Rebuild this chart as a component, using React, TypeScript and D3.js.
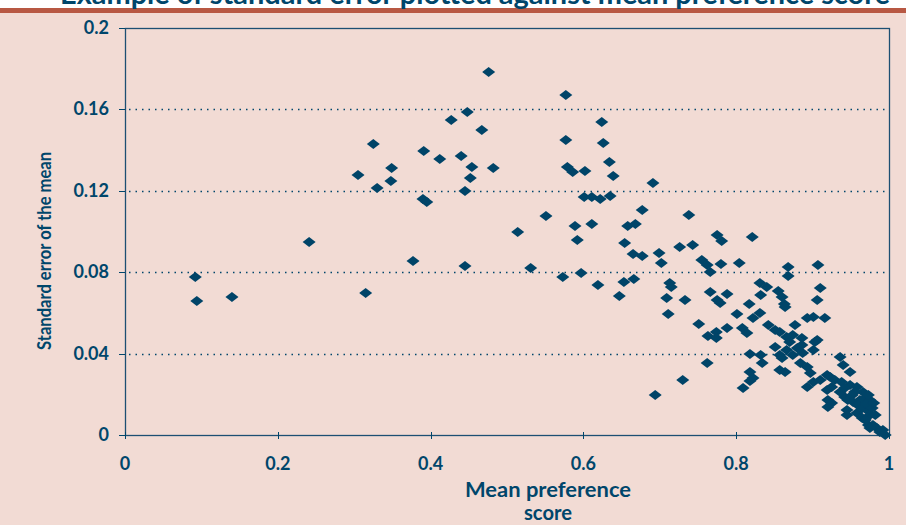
import React, { useEffect, useRef } from 'react';
import * as d3 from 'd3';

// Mean preference score (x) and standard error of the mean (y)
const meanScore = [
  0.092, 0.094, 0.140, 0.241, 0.305, 0.315, 0.325, 0.330, 0.348, 0.349,
  0.377, 0.391, 0.390, 0.395, 0.412, 0.427, 0.440, 0.445, 0.445, 0.448,
  0.452, 0.454, 0.467, 0.476, 0.482, 0.514, 0.531, 0.551,
  0.577, 0.624, 0.577, 0.626, 0.634, 0.579, 0.586, 0.602, 0.639, 0.691,
  0.601, 0.611, 0.622, 0.635, 0.677, 0.738, 0.589, 0.611, 0.658, 0.668,
  0.592, 0.654, 0.665, 0.677, 0.699, 0.702, 0.726, 0.743, 0.775, 0.781,
  0.821, 0.755, 0.762, 0.766, 0.780, 0.804, 0.868, 0.868, 0.907, 0.573,
  0.597, 0.619, 0.653, 0.666, 0.647, 0.713, 0.715, 0.709, 0.733, 0.766,
  0.775, 0.788, 0.779, 0.831, 0.840, 0.832, 0.855, 0.860, 0.863, 0.910,
  0.906, 0.817, 0.801, 0.711, 0.831, 0.822, 0.751, 0.788, 0.763, 0.774,
  0.774, 0.808, 0.814, 0.818, 0.832, 0.762, 0.834, 0.818, 0.818, 0.809,
  0.730, 0.694, 0.864, 0.864, 0.822,
  0.893, 0.901, 0.916, 0.877, 0.842, 0.851, 0.857, 0.866, 0.874, 0.886,
  0.870, 0.880, 0.887, 0.886, 0.903, 0.901, 0.906, 0.851, 0.857, 0.866,
  0.874, 0.860, 0.936, 0.940, 0.949, 0.857, 0.884, 0.893, 0.897, 0.901,
  0.893, 0.910, 0.919, 0.919, 0.923, 0.925, 0.920, 0.925, 0.920, 0.929,
  0.938, 0.949, 0.958, 0.966, 0.942, 0.946, 0.953, 0.962, 0.969, 0.975,
  0.945, 0.958, 0.971, 0.945, 0.973, 0.979, 0.984, 0.988, 0.995, 0.965,
  0.975, 0.955, 0.936, 0.942, 0.959, 0.965, 0.970, 0.978, 0.982, 0.952,
  0.973, 0.980, 0.992, 0.969, 0.975
];

const stdError = [
  0.0776, 0.0658, 0.0678, 0.0948, 0.1278, 0.0698, 0.1430, 0.1214, 0.1248, 0.1312,
  0.0855, 0.1396, 0.1160, 0.1145, 0.1356, 0.1548, 0.1371, 0.0830, 0.1199, 0.1587,
  0.1263, 0.1317, 0.1499, 0.1784, 0.1312, 0.0998, 0.0821, 0.1076,
  0.1671, 0.1538, 0.1450, 0.1435, 0.1342, 0.1317, 0.1292, 0.1297, 0.1273, 0.1238,
  0.1170, 0.1170, 0.1160, 0.1174, 0.1106, 0.1081, 0.1027, 0.1037, 0.1027, 0.1037,
  0.0958, 0.0943, 0.0889, 0.0880, 0.0894, 0.0845, 0.0924, 0.0934, 0.0983, 0.0953,
  0.0973, 0.0860, 0.0835, 0.0801, 0.0840, 0.0845, 0.0826, 0.0781, 0.0835, 0.0776,
  0.0796, 0.0737, 0.0752, 0.0767, 0.0683, 0.0747, 0.0727, 0.0673, 0.0663, 0.0703,
  0.0663, 0.0693, 0.0649, 0.0747, 0.0727, 0.0688, 0.0708, 0.0678, 0.0644, 0.0722,
  0.0663, 0.0644, 0.0595, 0.0595, 0.0600, 0.0575, 0.0545, 0.0526, 0.0486, 0.0506,
  0.0477, 0.0526, 0.0501, 0.0398, 0.0393, 0.0354, 0.0354, 0.0310, 0.0265, 0.0231,
  0.0270, 0.0197, 0.0310, 0.0629, 0.0280,
  0.0575, 0.0580, 0.0575, 0.0541, 0.0541, 0.0516, 0.0506, 0.0482, 0.0491, 0.0477,
  0.0457, 0.0428, 0.0403, 0.0442, 0.0457, 0.0418, 0.0467, 0.0432, 0.0393, 0.0418,
  0.0393, 0.0378, 0.0383, 0.0344, 0.0310, 0.0319, 0.0354, 0.0334, 0.0305, 0.0260,
  0.0236, 0.0270, 0.0295, 0.0221, 0.0285, 0.0236, 0.0172, 0.0157, 0.0138, 0.0270,
  0.0260, 0.0246, 0.0236, 0.0211, 0.0187, 0.0172, 0.0162, 0.0172, 0.0182, 0.0172,
  0.0123, 0.0108, 0.0123, 0.0098, 0.0049, 0.0049, 0.0034, 0.0015, 0.0000, 0.0084,
  0.0098, 0.0211, 0.0211, 0.0231, 0.0147, 0.0133, 0.0152, 0.0133, 0.0098, 0.0197,
  0.0197, 0.0157, 0.0025, 0.0074, 0.0034
];

const xTicks = [0, 0.2, 0.4, 0.6, 0.8, 1];
const yTicks = [0, 0.04, 0.08, 0.12, 0.16, 0.2];
const gridTicks = [0.04, 0.08, 0.12, 0.16];

function App() {
  const chartRef = useRef<SVGSVGElement>(null);

  useEffect(() => {
    document.body.style.margin = '0';

    const width = 906;
    const height = 525;
    const left = 125, right = 889, top = 28, bottom = 435;
    const navy = '#00466b';
    const font = 'Lato, "Open Sans", sans-serif';

    const svg = d3.select(chartRef.current);
    svg.selectAll('*').remove();

    // background and the red band at the top
    svg.append('rect').attr('width', width).attr('height', height).attr('fill', '#f2dbd4');
    svg.append('rect').attr('width', width).attr('height', 8).attr('fill', '#ffffff');
    svg.append('rect').attr('y', 8).attr('width', width).attr('height', 5).attr('fill', '#b85843');

    // title is cut off by the top of the picture, as in the original
    svg.append('text')
      .attr('x', 475)
      .attr('y', 4)
      .attr('text-anchor', 'middle')
      .attr('fill', navy)
      .attr('textLength', 830)
      .attr('lengthAdjust', 'spacingAndGlyphs')
      .style('font-family', font)
      .style('font-weight', 'bold')
      .style('font-size', '28px')
      .text('Example of standard error plotted against mean preference score');

    const x = d3.scaleLinear().domain([0, 1]).range([left, right]);
    const y = d3.scaleLinear().domain([0, 0.2]).range([bottom, top]);

    // dotted gridlines
    svg.append('g')
      .selectAll('line')
      .data(gridTicks)
      .enter()
      .append('line')
      .attr('x1', left + 4)
      .attr('x2', right)
      .attr('y1', d => Math.round(y(d)) + 0.5)
      .attr('y2', d => Math.round(y(d)) + 0.5)
      .attr('stroke', navy)
      .attr('stroke-width', 1.5)
      .attr('stroke-dasharray', '1.5,5');

    // frame
    svg.append('rect')
      .attr('x', left + 0.5)
      .attr('y', top + 0.5)
      .attr('width', right - left)
      .attr('height', bottom - top)
      .attr('fill', 'none')
      .attr('stroke', '#1d4f73')
      .attr('stroke-width', 1.3);

    // y ticks and labels
    const yAxis = svg.append('g');
    yAxis.selectAll('line')
      .data(yTicks)
      .enter()
      .append('line')
      .attr('x1', left - 6)
      .attr('x2', left)
      .attr('y1', d => Math.round(y(d)) + 0.5)
      .attr('y2', d => Math.round(y(d)) + 0.5)
      .attr('stroke', navy);
    yAxis.selectAll('text')
      .data(yTicks)
      .enter()
      .append('text')
      .attr('x', left - 16)
      .attr('y', d => y(d) + 6)
      .attr('text-anchor', 'end')
      .attr('fill', navy)
      .style('font-family', font)
      .style('font-weight', 'bold')
      .style('font-size', '18px')
      .text(d => d3.format('')(+d.toFixed(2)));

    // x ticks and labels
    const xAxis = svg.append('g');
    xAxis.selectAll('line')
      .data(xTicks)
      .enter()
      .append('line')
      .attr('x1', d => Math.round(x(d)) + 0.5)
      .attr('x2', d => Math.round(x(d)) + 0.5)
      .attr('y1', bottom - 3)
      .attr('y2', bottom + 4)
      .attr('stroke', navy);
    xAxis.selectAll('text')
      .data(xTicks)
      .enter()
      .append('text')
      .attr('x', d => x(d))
      .attr('y', 470)
      .attr('text-anchor', 'middle')
      .attr('fill', navy)
      .style('font-family', font)
      .style('font-weight', 'bold')
      .style('font-size', '18px')
      .text(d => d3.format('')(+d.toFixed(1)));

    // axis titles
    const xTitle = svg.append('text')
      .attr('text-anchor', 'middle')
      .attr('fill', navy)
      .style('font-family', font)
      .style('font-weight', 'bold')
      .style('font-size', '21px');
    xTitle.append('tspan')
      .attr('x', 548).attr('y', 497)
      .attr('textLength', 166).attr('lengthAdjust', 'spacingAndGlyphs')
      .text('Mean preference');
    xTitle.append('tspan')
      .attr('x', 548).attr('y', 520)
      .attr('textLength', 48).attr('lengthAdjust', 'spacingAndGlyphs')
      .text('score');

    svg.append('text')
      .attr('transform', 'translate(51, 251) rotate(-90)')
      .attr('text-anchor', 'middle')
      .attr('fill', navy)
      .attr('textLength', 198)
      .attr('lengthAdjust', 'spacingAndGlyphs')
      .style('font-family', font)
      .style('font-weight', 'bold')
      .style('font-size', '19px')
      .text('Standard error of the mean');

    // diamond markers
    const points = meanScore.map((m, i) => ({ m, s: stdError[i] }));
    svg.append('g')
      .selectAll('path')
      .data(points)
      .enter()
      .append('path')
      .attr('transform', d => `translate(${x(d.m)}, ${y(d.s)})`)
      .attr('d', 'M0,-5L6.5,0L0,5L-6.5,0Z')
      .attr('fill', '#004468');
  }, []);

  return <svg ref={chartRef} width={906} height={525} style={{ display: 'block' }} />;
}

export default App;
